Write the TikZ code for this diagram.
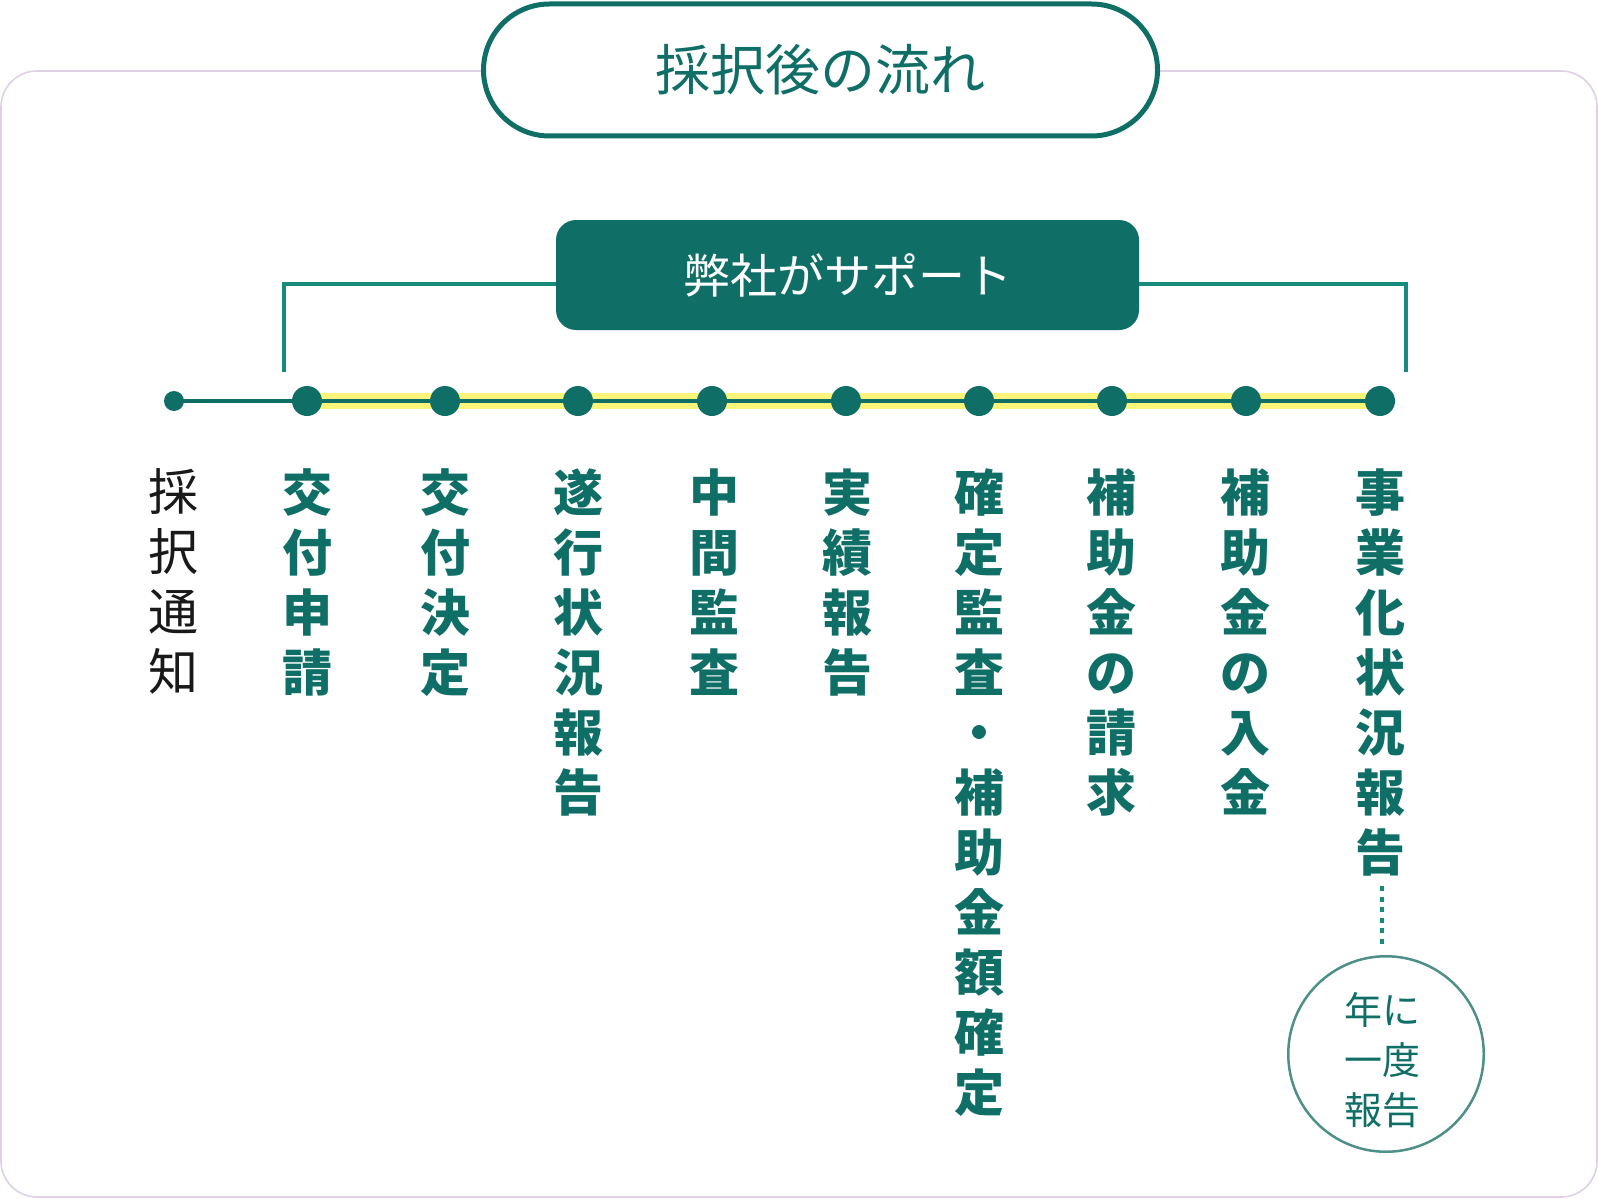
\documentclass[tikz,border=0pt]{standalone}
\usepackage{fontspec}
\setmainfont{Noto Sans CJK JP}
\usetikzlibrary{calc}
\definecolor{teal1}{HTML}{0F6E66}
\definecolor{teal2}{HTML}{168A7C}
\definecolor{teal3}{HTML}{4E8F88}
\definecolor{ylw}{HTML}{FDF57A}
\definecolor{frm}{HTML}{E0D0E6}
\pgfdeclarelayer{back}
\pgfdeclarelayer{bg}
\pgfsetlayers{back,bg,main}
\tikzset{
  dotbig/.style={circle,fill=teal1,inner sep=0pt,minimum size=15pt},
  dotsmall/.style={circle,fill=teal1,inner sep=0pt,minimum size=10pt},
  steplabel/.style={anchor=north,inner sep=0pt,align=center,text=teal1,font=\fontsize{25}{30}\selectfont\bfseries},
  firstlabel/.style={anchor=north,inner sep=0pt,align=center,text=black!90,font=\fontsize{25}{30}\selectfont},
  bracketline/.style={draw=teal2,line width=2pt},
}
\begin{document}
\begin{tikzpicture}[x=0.5pt,y=-0.5pt]
\begin{pgfonlayer}{back}
\fill[white] (0,0) rectangle (1598,1198);
\draw[frm,line width=0.8pt,rounded corners=18pt] (1,71) rectangle (1597,1197);
\end{pgfonlayer}
\useasboundingbox (0,0) rectangle (1598,1198);

% title pill
\node[draw=teal1,fill=white,line width=2.5pt,rounded corners=33pt,minimum width=337pt,minimum height=66pt,inner sep=0pt,text=teal1,font=\fontsize{27.5}{30}\selectfont] (title) at (820.5,70) {採択後の流れ};

% support box
\node[fill=teal1,rounded corners=10pt,minimum width=291.5pt,minimum height=55pt,inner sep=0pt,text=white,font=\fontsize{23.5}{28}\selectfont] (sup) at (847.5,275) {弊社がサポート};

% dots
\node[dotsmall] (d0) at (174,401) {};
\node[dotbig] (d1) at (307,401) {};
\node[dotbig] (d2) at (445,401) {};
\node[dotbig] (d3) at (578,401) {};
\node[dotbig] (d4) at (712,401) {};
\node[dotbig] (d5) at (846,401) {};
\node[dotbig] (d6) at (979,401) {};
\node[dotbig] (d7) at (1112,401) {};
\node[dotbig] (d8) at (1246,401) {};
\node[dotbig] (d9) at (1380,401) {};

\begin{pgfonlayer}{bg}
\draw[ylw,line width=8pt,yshift=1.25pt] (d1.center) -- (d9.center);
\draw[teal1,line width=2pt,yshift=1.25pt] (d0.center) -- (d9.center);
\end{pgfonlayer}

% bracket
\coordinate (bl) at (284,372);
\coordinate (br) at (1406,372);
\draw[bracketline] ($(sup.west)+(0,9)$) -| (bl);
\draw[bracketline] ($(sup.east)+(0,9)$) -| (br);

% labels
\node[firstlabel] (l0) at (173,468) {採\\択\\通\\知};
\node[steplabel] (l1) at (307,468) {交\\付\\申\\請};
\node[steplabel] (l2) at (445,468) {交\\付\\決\\定};
\node[steplabel] (l3) at (578,468) {遂\\行\\状\\況\\報\\告};
\node[steplabel] (l4) at (714,468) {中\\間\\監\\査};
\node[steplabel] (l5) at (847,468) {実\\績\\報\\告};
\node[steplabel] (l6) at (979,468) {確\\定\\監\\査\\・\\補\\助\\金\\額\\確\\定};
\node[steplabel] (l7) at (1111,468) {補\\助\\金\\の\\請\\求};
\node[steplabel] (l8) at (1245,468) {補\\助\\金\\の\\入\\金};
\node[steplabel] (l9) at (1380,468) {事\\業\\化\\状\\況\\報\\告};

% circle
\node[circle,draw=teal3,line width=1.25pt,minimum size=97.75pt,inner sep=0pt,align=center,text=teal1,font=\fontsize{19}{25}\selectfont] (c) at (1386,1054) {\raisebox{-5pt}[\height][\depth]{\kern-4pt\begin{tabular}{@{}c@{}}年に\\一度\\報告\end{tabular}}};
\draw[teal2,line width=1.75pt,dash pattern=on 2.5pt off 2.75pt] ($(l9.south)+(2,10)$) -- ($(c.north)+(-4,-10)$);
\end{tikzpicture}
\end{document}
